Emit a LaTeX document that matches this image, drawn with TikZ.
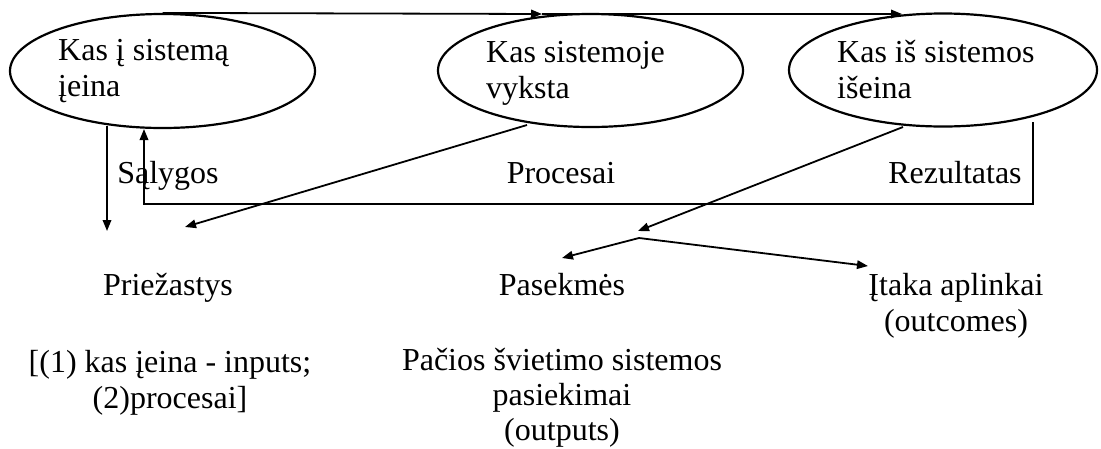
\documentclass[tikz,border=0pt]{standalone}
\usepackage{fontspec}
\setmainfont{Liberation Serif}
\usetikzlibrary{arrows.meta,shapes.geometric}
\tikzset{
  oval/.style={draw, ellipse, line width=2.2pt, inner sep=0pt},
  lbl/.style={anchor=base, inner sep=0pt, font=\fontsize{32}{36}\selectfont, align=center},
  ltxt/.style={anchor=base west, inner sep=0pt, font=\fontsize{32}{36.5}\selectfont, align=left},
  conn/.style={line width=1.8pt},
  arr/.style={conn, -{Triangle[length=11pt,width=8.5pt]}}
}
\begin{document}
\begin{tikzpicture}[x=1pt,y=-1pt]
\useasboundingbox (0,0) rectangle (1101,448);
% ellipses
\node[oval, minimum width=305pt, minimum height=114pt] (e1) at (162.5,71) {};
\node[oval, minimum width=305pt, minimum height=113pt] (e2) at (590.5,70.5) {};
\node[oval, minimum width=308pt, minimum height=113pt] (e3) at (943,70) {};
% multi-line nodes: base anchor = baseline of the last line
\node[ltxt] (t1) at (58,96.5) {Kas į sistemą\\įeina};
\node[ltxt] (t2) at (486,98.5) {Kas sistemoje\\vyksta};
\node[ltxt] (t3) at (837,98.5) {Kas iš sistemos\\išeina};
% labels
\node[lbl] (sal) at (168,183) {Sąlygos};
\node[lbl] (proc) at (561,183) {Procesai};
\node[lbl] (rez) at (955,183) {Rezultatas};
\node[lbl] (prie) at (168,295) {Priežastys};
\node[lbl] (pas) at (562,295) {Pasekmės};
\node[lbl] (itaka) at (956,331) {Įtaka aplinkai\\(outcomes)};
\node[lbl] (inp) at (170,408) {[(1) kas įeina - inputs;\\(2)procesai]};
\node[lbl, font=\fontsize{32}{35}\selectfont] (outp) at (562,440) {Pačios švietimo sistemos\\pasiekimai\\(outputs)};
% connector end points
\coordinate (top2) at (542,14);
\coordinate (top3) at (902,14);
\coordinate (d1s) at (107,126);
\coordinate (d1e) at (107,231);
\coordinate (fb1) at (1033,122);
\coordinate (fb2) at (1033,204);
\coordinate (fb3) at (144,204);
\coordinate (fb4) at (144,129);
\coordinate (p2s) at (527,125);
\coordinate (p2e) at (185,227);
\coordinate (p3s) at (903,127);
\coordinate (p3e) at (638,231);
\coordinate (br) at (639,238);
\coordinate (bra) at (562,258);
\coordinate (brb) at (868,266);
% connectors
\draw[arr] (e1.north) -- (top2);
\draw[arr] (top2) -- (top3);
\draw[arr] (d1s) -- (d1e);
\draw[arr] (fb1) -- (fb2) -- (fb3) -- (fb4);
\draw[arr] (p2s) -- (p2e);
\draw[arr] (p3s) -- (p3e);
\draw[arr] (br) -- (bra);
\draw[arr] (br) -- (brb);
\end{tikzpicture}
\end{document}
